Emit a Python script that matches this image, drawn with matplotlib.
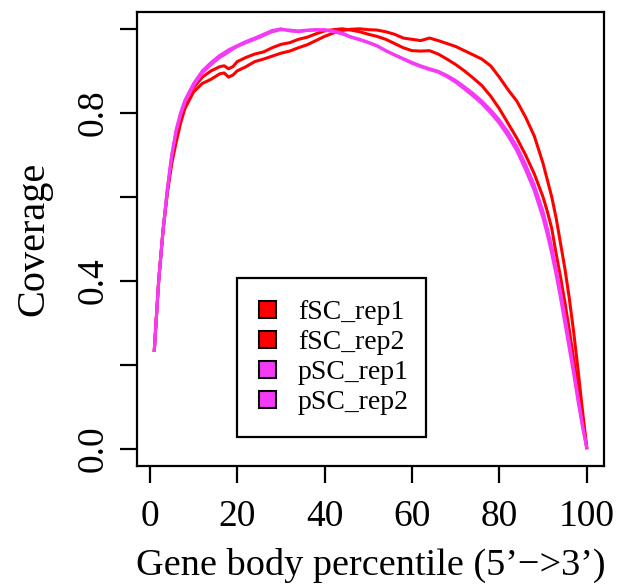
import matplotlib
matplotlib.use("Agg")
import matplotlib.pyplot as plt
from matplotlib.patches import Patch

plt.rcParams['font.family'] = ['Liberation Serif', 'DejaVu Serif']

# ---- data ----
pct_fine = [1, 2, 3, 4, 5, 6, 7, 8, 9, 10, 12, 14, 16, 17, 18, 19, 20, 22, 24, 26, 28, 30,
            32, 34, 36, 38, 40, 42, 44, 46, 48, 50, 52, 54, 56, 58, 60, 62, 64, 66, 68, 70,
            72, 74, 76, 78, 80, 82, 84, 86, 88, 90, 91, 92, 93, 94, 95, 96, 97, 98, 99, 100]

fSC_rep1 = [0.235, 0.40, 0.52, 0.61, 0.68, 0.73, 0.775, 0.81, 0.83, 0.85, 0.87, 0.88, 0.893, 0.895,
            0.885, 0.89, 0.90, 0.91, 0.922, 0.928, 0.935, 0.942, 0.947, 0.955, 0.962, 0.972, 0.982,
            0.990, 0.996, 0.999, 1.0, 0.998, 0.997, 0.993, 0.987, 0.978, 0.975, 0.972, 0.978, 0.972,
            0.965, 0.958, 0.948, 0.938, 0.928, 0.912, 0.885, 0.855, 0.828, 0.79, 0.745, 0.68, 0.64,
            0.60, 0.55, 0.49, 0.43, 0.36, 0.28, 0.19, 0.095, 0.005]

fSC_rep2 = [0.235, 0.40, 0.52, 0.615, 0.69, 0.745, 0.79, 0.82, 0.845, 0.86, 0.885, 0.90, 0.91, 0.912,
            0.905, 0.91, 0.922, 0.932, 0.94, 0.945, 0.955, 0.963, 0.967, 0.975, 0.98, 0.988, 0.995,
            0.998, 1.0, 0.997, 0.993, 0.987, 0.982, 0.975, 0.965, 0.955, 0.948, 0.947, 0.948, 0.94,
            0.928, 0.915, 0.90, 0.883, 0.865, 0.84, 0.81, 0.775, 0.74, 0.70, 0.655, 0.60, 0.565,
            0.525, 0.465, 0.41, 0.35, 0.285, 0.215, 0.145, 0.075, 0.004]

pSC_rep1 = [0.235, 0.40, 0.52, 0.62, 0.70, 0.76, 0.80, 0.83, 0.85, 0.87, 0.90, 0.92, 0.937, 0.943,
            0.950, 0.955, 0.960, 0.970, 0.978, 0.987, 0.996, 1.0, 0.995, 0.993, 0.996, 0.997, 0.998,
            0.995, 0.990, 0.981, 0.975, 0.968, 0.960, 0.948, 0.938, 0.928, 0.918, 0.910, 0.903, 0.897,
            0.886, 0.873, 0.857, 0.840, 0.822, 0.800, 0.775, 0.745, 0.71, 0.665, 0.615, 0.55, 0.51,
            0.465, 0.415, 0.36, 0.30, 0.24, 0.18, 0.115, 0.055, 0.003]

pSC_rep2 = [0.235, 0.40, 0.52, 0.62, 0.70, 0.755, 0.795, 0.825, 0.845, 0.865, 0.895, 0.915, 0.932,
            0.938, 0.945, 0.952, 0.958, 0.967, 0.975, 0.984, 0.993, 0.998, 0.997, 0.995, 0.997, 0.998,
            0.997, 0.993, 0.988, 0.980, 0.974, 0.967, 0.959, 0.948, 0.938, 0.929, 0.920, 0.912, 0.905,
            0.899, 0.889, 0.877, 0.862, 0.846, 0.828, 0.807, 0.783, 0.754, 0.72, 0.677, 0.628, 0.565,
            0.525, 0.48, 0.43, 0.375, 0.315, 0.255, 0.19, 0.125, 0.06, 0.003]

series_names = ['fSC_rep1', 'fSC_rep2', 'pSC_rep1', 'pSC_rep2']
series_values = [fSC_rep1, fSC_rep2, pSC_rep1, pSC_rep2]
series_colors = ['#FF0000', '#FF0000', '#F53AF5', '#F53AF5']

x_ticks = [0, 20, 40, 60, 80, 100]
y_ticks = [0.0, 0.2, 0.4, 0.6, 0.8, 1.0]
y_tick_labels = ['0.0', '', '0.4', '', '0.8', '']

# ---- figure ----
fig = plt.figure(figsize=(6.17, 5.84), dpi=100)
ax = fig.add_axes([137 / 617, (584 - 466) / 584, (604 - 137) / 617, (466 - 12) / 584])

for vals, col in zip(series_values, series_colors):
    ax.plot(pct_fine, vals, color=col, lw=2.2, solid_joinstyle='round')

ax.set_xlim(1 - 0.04 * 99, 100 + 0.04 * 99)
ax.set_ylim(-0.04, 1.04)
ax.set_xticks(x_ticks)
ax.set_xticklabels([str(t) for t in x_ticks])
ax.set_yticks(y_ticks)
ax.set_yticklabels(y_tick_labels, rotation=90, va='center')

for s in ax.spines.values():
    s.set_linewidth(1.6)
    s.set_color('black')
ax.tick_params(direction='out', length=12, width=1.6, labelsize=27, colors='black')
ax.tick_params(axis='x', pad=12)
ax.tick_params(axis='y', pad=7)

ax.set_xlabel("Gene body percentile (5\u2019\u2212>3\u2019)", fontsize=27.5, labelpad=10)
ax.set_ylabel("Coverage", fontsize=29, labelpad=17)

handles = [Patch(facecolor=c, edgecolor='black', linewidth=1.5) for c in series_colors]
leg = ax.legend(handles, series_names, loc='upper left', mode='expand',
                bbox_to_anchor=(0.214, 0.084, 0.405, 0.33), fontsize=20, frameon=True,
                fancybox=False, edgecolor='black', framealpha=1, handlelength=0.6,
                handleheight=0.6, handletextpad=0.8, borderpad=0.8, labelspacing=0.18,
                borderaxespad=0)
leg.get_frame().set_linewidth(1.6)

fig.savefig('out.png', dpi=100)
